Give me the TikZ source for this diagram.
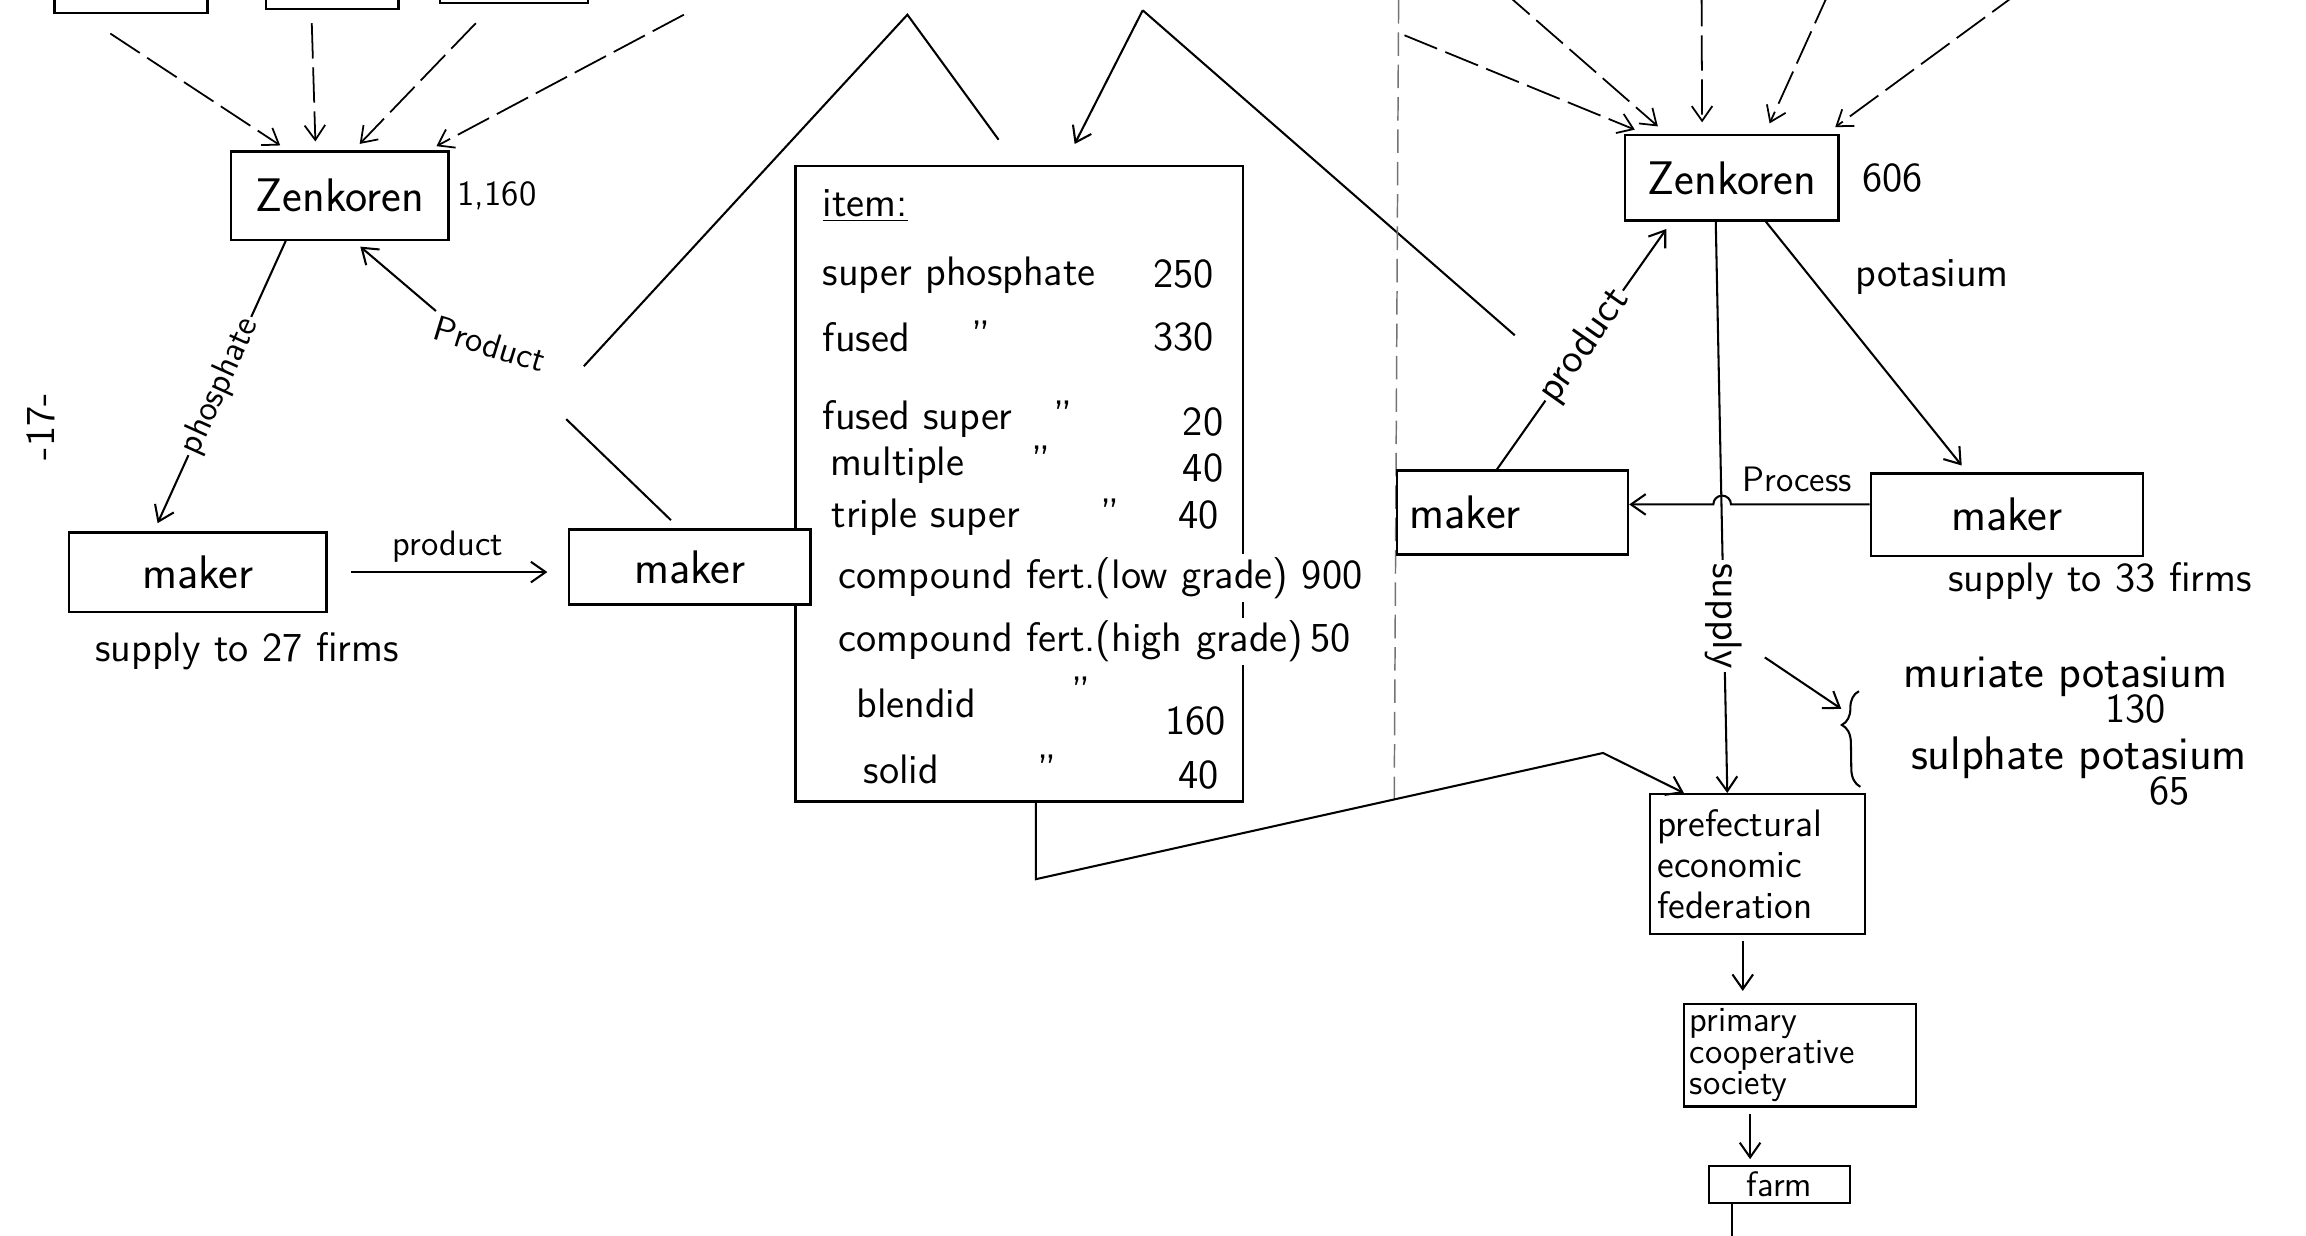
\documentclass[tikz,border=0pt]{standalone}
\usepackage{tikz}
\usetikzlibrary{arrows.meta,decorations.pathreplacing}
\newcommand{\hwbig}{\sffamily\fontsize{16}{18}\selectfont}
\newcommand{\hw}{\sffamily\fontsize{14}{16}\selectfont}
\newcommand{\hwsm}{\sffamily\fontsize{12}{14}\selectfont}
\newcommand{\hwbox}{\sffamily\fontsize{13}{14}\selectfont}
\newcommand{\hwtiny}{\sffamily\fontsize{12}{10.8}\selectfont}

\begin{document}
\begin{tikzpicture}[x=0.5pt,y=-0.5pt,
  >={Straight Barb[length=5pt,width=7pt]},
  box/.style={draw,line width=0.8pt,inner sep=3pt,font=\hwbig},
  fanin/.style={->,line width=0.6pt,dash pattern=on 12pt off 3pt,shorten >=3pt},
  link/.style={line width=0.7pt},
  lbl/.style={font=\hwsm,inner sep=1pt},
  item/.style={font=\hw,inner sep=1pt},
  pageedge/.style={black!55,line width=0.5pt,dash pattern=on 8pt off 3pt}]
\clip (0,0) rectangle (1568,840);
\fill[white] (0,0) rectangle (1568,840);
\begin{scope}
  \node[box,minimum width=52pt,minimum height=24pt] (top1) at (89,-15) {};
  \node[box,minimum width=45pt,minimum height=24pt] (top2) at (226,-18) {};
  \node[box,minimum width=50.5pt,minimum height=24pt] (top3) at (349.5,-22) {};
  \coordinate (fanL) at (465,10);
  \node[box,minimum width=74pt,minimum height=30pt] (zenL) at (231,133) {Zenkoren};
  \node[lbl] (zenLnum) at (338,133) {1,160};
  \node[box,minimum width=87.5pt,minimum height=27pt] (makerL1) at (134.5,389) {maker};
  \node[box,minimum width=82pt,minimum height=25.5pt] (makerL2) at (469,385.5) {};
  \node[lbl,font=\hw] (firms27) at (168,443) {supply to 27 firms};
  \node[lbl,rotate=-17] (prodL) at (333,234) {Product};
  \node[lbl,font=\hw,rotate=90] (pgno) at (28,290) {-17-};
  \draw[fanin] ([shift={(-14,13)}]top1.south) -- (zenL.139);
  \draw[fanin] ([shift={(-14,9)}]top2.south) -- (zenL.118);
  \draw[fanin] ([shift={(-26,13)}]top3.south) -- (zenL.73);
  \draw[fanin] (fanL) -- (zenL.27);
  \draw[link,->,shorten >=3pt] (zenL.220) -- (makerL1.137) node[midway,sloped,fill=white,lbl] (phosL) {phosphate};
  \draw[link,->,shorten >=3pt] (prodL.north west) -- (zenL.287);
  \draw[link,->,shorten <=8pt,shorten >=7pt] (makerL1.east) -- (makerL1.east -| makerL2.west) node[midway,above=2pt,lbl] (prodLL) {product};
\end{scope}
\begin{scope}
  \coordinate (peakA) at (617,10);
  \coordinate (peakB) at (777,7);
  \coordinate (ridgeA) at (397,249);
  \coordinate (ridgeAend) at (679,95);
  \coordinate (ridgeB) at (1030,228);
  \coordinate (slashL) at (385,285);
  \node[box,minimum width=152pt,minimum height=216pt] (items) at (693,329) {};
  \node[box,fill=white,minimum width=82pt,minimum height=25.5pt] (makerL2b) at (makerL2) {maker};
  \node[item,anchor=west] (it0) at (557,140) {\underline{item:}};
  \node[item,anchor=west] (it1) at (557,187) {super phosphate};
  \node[item] (n1) at (805,186) {250};
  \node[item,anchor=west] (it2) at (557,229) {fused};
  \node[item] (d2) at (667,228) {''};
  \node[item] (n2) at (805,229) {330};
  \node[item,anchor=west] (it3) at (557,285) {fused super};
  \node[item] (d3) at (723,282) {''};
  \node[item] (n3) at (818,287) {20};
  \node[item,anchor=west] (it4) at (562,316) {multiple};
  \node[item] (d4) at (708,313) {''};
  \node[item] (n4) at (818,318) {40};
  \node[item,anchor=west] (it5) at (563,352) {triple super};
  \node[item] (d5) at (755,349) {''};
  \node[item] (n5) at (815,350) {40};
  \node[item,anchor=west,fill=white] (it6) at (568,393) {compound fert.(low grade) 900};
  \node[item,anchor=west,fill=white] (it7) at (568,436) {compound fert.(high grade)\,50};
  \node[item,anchor=west] (it8) at (580,478) {blendid};
  \node[item] (d8) at (735,470) {''};
  \node[item] (n8) at (813,490) {160};
  \node[item,anchor=west] (it9) at (585,523) {solid};
  \node[item] (d9) at (712,523) {''};
  \node[item] (n9) at (815,527) {40};
  \draw[link] (ridgeA) -- (peakA) -- (ridgeAend);
  \draw[link,->,shorten >=8pt] (peakB) -- (items.82);
  \draw[link] (peakB) -- (ridgeB);
  \draw[link,shorten >=4pt] (slashL) -- (makerL2.105);
  \draw[pageedge] (951,0) -- (948,548);
\end{scope}
\begin{scope}
  \coordinate (r1) at (955,24);
  \coordinate (r2) at (1022,-6);
  \coordinate (r3) at (1157,-6);
  \coordinate (r4) at (1244,-6);
  \coordinate (r5) at (1374,-6);
  \coordinate (hop) at (1171,343);
  \coordinate (potArr) at (1200,447);
  \coordinate (itBend) at (1090,512);
  \node[box,minimum width=72.5pt,minimum height=29pt] (zenR) at (1177.5,121) {Zenkoren};
  \node[lbl,font=\hw] (zenRnum) at (1287,121) {606};
  \node[box,minimum width=78.5pt,minimum height=28.5pt,text width=70pt,align=left] (makerR1) at (1028.5,348.5) {maker};
  \node[box,minimum width=92.5pt,minimum height=28pt] (makerR2) at (1364.5,350) {maker};
  \node[lbl,font=\hw] (firms33) at (1428,395) {supply to 33 firms};
  \node[box,font=\hwbox,minimum width=73pt,minimum height=47.5pt,inner sep=2pt,text width=68pt,align=left] (pref) at (1195,587.5) {prefectural\\economic\\federation};
  \node[box,font=\hwtiny,minimum width=79pt,minimum height=34.5pt,inner sep=1.5pt,text width=75pt,align=left] (prim) at (1224,717.5) {primary\\cooperative\\society};
  \node[box,font=\hwsm,minimum width=48pt,minimum height=12.5pt,inner sep=1pt] (farm) at (1210,805.5) {farm};
  \node[lbl,font=\hwbig,anchor=west] (mur) at (1292,460) {muriate potasium};
  \node[lbl,font=\hw] (mur130) at (1452,482) {130};
  \node[lbl,font=\hwbig,anchor=west] (sul) at (1297,515) {sulphate potasium};
  \node[lbl,font=\hw] (sul65) at (1475,538) {65};
  \draw[fanin,shorten >=4pt] (r1) -- (zenR.153);
  \draw[fanin,shorten >=4pt] (r2) -- (zenR.146);
  \draw[fanin,shorten >=4pt] (r3) -- (zenR.124);
  \draw[fanin,shorten >=4pt] (r4) -- (zenR.53);
  \draw[fanin,shorten >=4pt] (r5) -- (zenR.25);
  \draw[link,->,shorten >=3pt] (makerR1.110) -- (zenR.216) node[midway,sloped,fill=white,lbl,font=\hw] (prodR) {product};
  \draw[link,->,shorten >=3pt] (zenR.308) -- (makerR2.133) node[pos=0.22,right=14pt,lbl,font=\hw] (potL) {potasium};
  \draw[link,->] (zenR.250) -- (pref.113) node[pos=0.69,rotate=-90,fill=white,lbl,font=\hw] (supL) {supply};
  \draw[link,->] (makerR2.west |- hop) -- ([xshift=3pt]hop) arc[start angle=0,end angle=-180,radius=6] -- (makerR1.east |- hop);
  \node[lbl] (procL) at (1222,326) {Process};
  \draw[link,decorate,decoration={brace,amplitude=6pt,aspect=0.65}] ([xshift=-16pt,yshift=-10pt]sul.west) -- ([xshift=-14pt,yshift=-5pt]mur.west);
  \draw[link,->] (potArr) -- ([xshift=-20pt,yshift=-11pt]mur.west);
  \draw[link,->] (items.273) -- ++(0,52) -- (itBend) -- (pref.136);
  \draw[link,->,shorten <=2pt,shorten >=4pt] ([xshift=-5pt]pref.south) -- ([xshift=-5pt]pref.south |- prim.north);
  \draw[link,->,shorten <=2pt,shorten >=2pt] ([xshift=-17pt]prim.south) -- ([xshift=-17pt]prim.south |- farm.north);
  \draw[link] ([xshift=-16pt]farm.south) -- ++(0,30);
\end{scope}
\end{tikzpicture}
\end{document}
